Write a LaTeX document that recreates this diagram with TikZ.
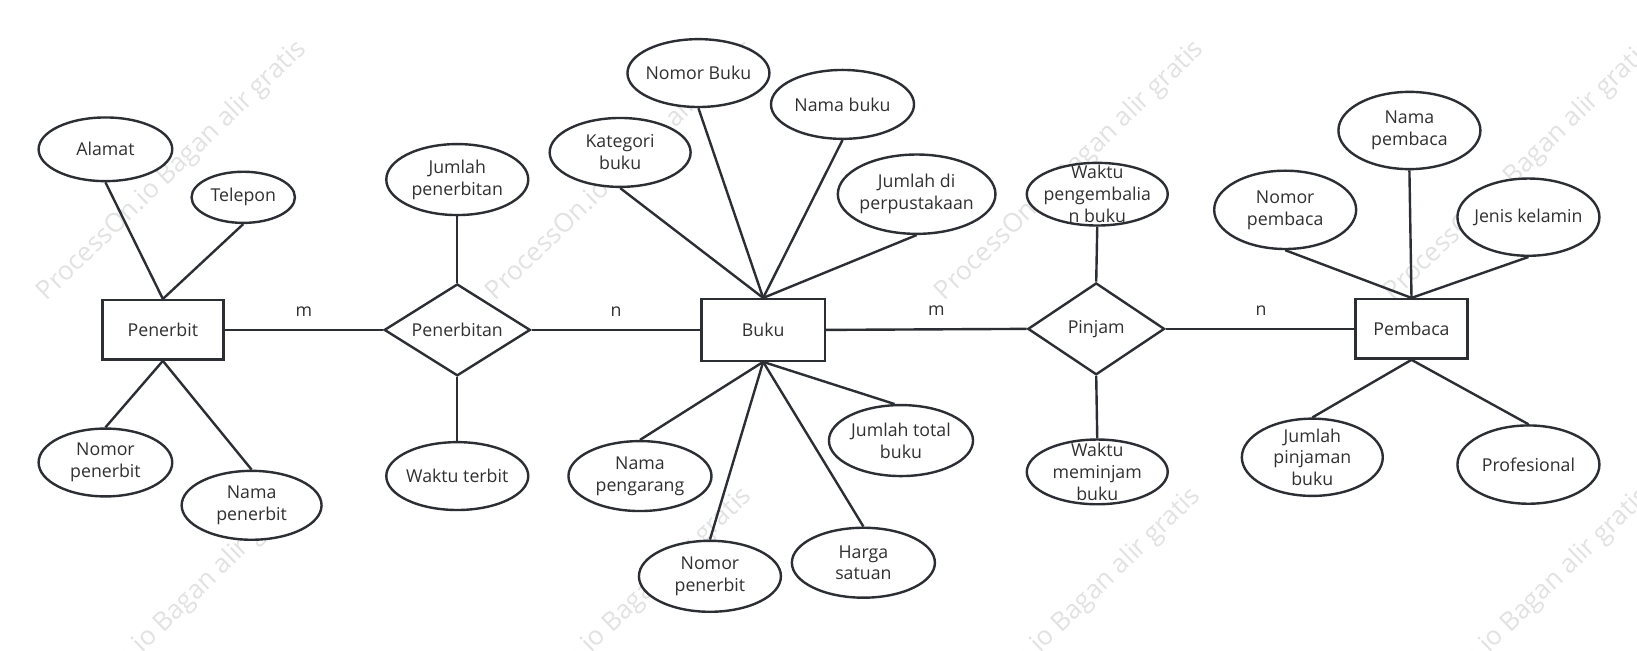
\documentclass[tikz,border=0pt]{standalone}
\usepackage{fontspec}
\setmainfont{Open Sans}
\usetikzlibrary{shapes.geometric}
\definecolor{ink}{HTML}{2B2E33}
\definecolor{txt}{HTML}{303030}
\definecolor{wmark}{HTML}{E2E2E2}
\newcommand{\attrnode}[6]{%
  \node[attr, minimum width=#4pt, minimum height=#5pt] (#1) at (#2,#3) {};
  \node[lbl] (#1-t) at (#1) {#6};
}
\tikzset{
  attr/.style={ellipse, draw=ink, line width=2.3pt, fill=white, inner sep=0pt},
  lbl/.style={text=txt, align=center, inner sep=0pt, font=\fontsize{17pt}{21pt}\selectfont},
  ent/.style={rectangle, draw=ink, line width=2.3pt, fill=white, inner sep=0pt, text=txt, font=\fontsize{17pt}{21pt}\selectfont},
  rel/.style={diamond, draw=ink, line width=2.3pt, fill=white, inner sep=0pt},
  conn/.style={draw=ink, line width=2.3pt},
  card/.style={text=txt, inner sep=0pt, font=\fontsize{17pt}{21pt}\selectfont},
  wm/.style={text=wmark, inner sep=0pt, rotate=44, font=\fontsize{25pt}{29pt}\selectfont}
}
\begin{document}
\begin{tikzpicture}[x=1pt,y=-1pt]
\fill[white] (0,0) rectangle (1568,623);
\useasboundingbox (0,0) rectangle (1568,623);
% watermarks
\node[wm] (wm1) at (165,164) {ProcessOn.io Bagan alir gratis};
\node[wm] (wm2) at (595,164) {ProcessOn.io Bagan alir gratis};
\node[wm] (wm3) at (1025,164) {ProcessOn.io Bagan alir gratis};
\node[wm] (wm4) at (1455,164) {ProcessOn.io Bagan alir gratis};
\node[wm] (wm5) at (162,592) {ProcessOn.io Bagan alir gratis};
\node[wm] (wm6) at (592,592) {ProcessOn.io Bagan alir gratis};
\node[wm] (wm7) at (1022,592) {ProcessOn.io Bagan alir gratis};
\node[wm] (wm8) at (1452,592) {ProcessOn.io Bagan alir gratis};
% entities
\node[ent, minimum width=116pt, minimum height=57pt] (penerbit) at (156,316) {Penerbit};
\node[ent, minimum width=118pt, minimum height=59pt] (buku) at (731,316) {Buku};
\node[ent, minimum width=107pt, minimum height=57pt] (pembaca) at (1352,315) {Pembaca};
% relationships
\node[rel, minimum width=140pt, minimum height=88pt] (penerbitan) at (438,316) {};
\node[lbl] (penerbitan-t) at (penerbitan) {Penerbitan};
\node[rel, minimum width=131pt, minimum height=88pt] (pinjam) at (1050,315) {};
\node[lbl] (pinjam-t) at (pinjam) {Pinjam};
% attributes
\attrnode{alamat}{101}{143}{128}{61}{Alamat}
\attrnode{telepon}{233}{189}{99}{49}{Telepon}
\attrnode{nopen}{101}{443}{128}{65}{Nomor\\penerbit}
\attrnode{namapen}{241}{484}{134}{66}{Nama\\penerbit}
\attrnode{jmlpen}{438}{172}{136}{68}{Jumlah\\penerbitan}
\attrnode{wterbit}{438}{456}{136}{65}{Waktu terbit}
\attrnode{nobuku}{669}{70}{136}{65}{Nomor Buku}
\attrnode{namabuku}{807}{100}{137}{66}{Nama buku}
\attrnode{kategori}{594}{146}{135}{66}{Kategori\\buku}
\attrnode{jmldi}{878}{186}{151}{76}{Jumlah di\\perpustakaan}
\attrnode{pengarang}{613}{456}{137}{67}{Nama\\pengarang}
\attrnode{nopentwo}{680}{552}{136}{68}{Nomor\\penerbit}
\attrnode{harga}{827}{539}{137}{67}{Harga\\satuan}
\attrnode{jtb}{863}{422}{138}{68}{Jumlah total\\buku}
\attrnode{wkembali}{1051}{186}{135}{60}{Waktu\\pengembalia\\n buku}
\attrnode{wpinjam}{1051}{452}{135}{62}{Waktu\\meminjam\\buku}
\attrnode{namapem}{1350}{125}{136}{74}{Nama\\pembaca}
\attrnode{nopem}{1231}{201}{136}{75}{Nomor\\pembaca}
\attrnode{jenis}{1464}{208}{136}{74}{Jenis kelamin}
\attrnode{jpinjam}{1257}{438}{135}{74}{Jumlah\\pinjaman\\buku}
\attrnode{prof}{1464}{445}{136}{75}{Profesional}
% connectors
\draw[conn] (penerbit.north) -- (alamat.south);
\draw[conn] (penerbit.north) -- (telepon.south);
\draw[conn] (penerbit.south) -- (nopen.north);
\draw[conn] (penerbit.south) -- (namapen.north);
\draw[conn] (penerbitan.north) -- (jmlpen.south);
\draw[conn] (penerbitan.south) -- (wterbit.north);
\draw[conn] (buku.north) -- (kategori.south);
\draw[conn] (buku.north) -- (nobuku.south);
\draw[conn] (buku.north) -- (namabuku.south);
\draw[conn] (buku.north) -- (jmldi.south);
\draw[conn] (buku.south) -- (pengarang.north);
\draw[conn] (buku.south) -- (nopentwo.north);
\draw[conn] (buku.south) -- (harga.north);
\draw[conn] (buku.south) -- (jtb.100);
\draw[conn] (pinjam.north) -- (wkembali.south);
\draw[conn] (pinjam.south) -- (wpinjam.north);
\draw[conn] (pembaca.north) -- (nopem.south);
\draw[conn] (pembaca.north) -- (namapem.south);
\draw[conn] (pembaca.north) -- (jenis.south);
\draw[conn] (pembaca.south) -- (jpinjam.north);
\draw[conn] (pembaca.south) -- (prof.north);
\draw[conn] (penerbit.east) -- (penerbitan.west);
\draw[conn] (penerbitan.east) -- (buku.west);
\draw[conn] (buku.east) -- (pinjam.west);
\draw[conn] (pinjam.east) -- (pembaca.west);
% cardinalities
\node[card] (c1) at (291,299) {m};
\node[card] (c2) at (590,299) {n};
\node[card] (c3) at (897,298) {m};
\node[card] (c4) at (1208,298) {n};
\end{tikzpicture}
\end{document}
